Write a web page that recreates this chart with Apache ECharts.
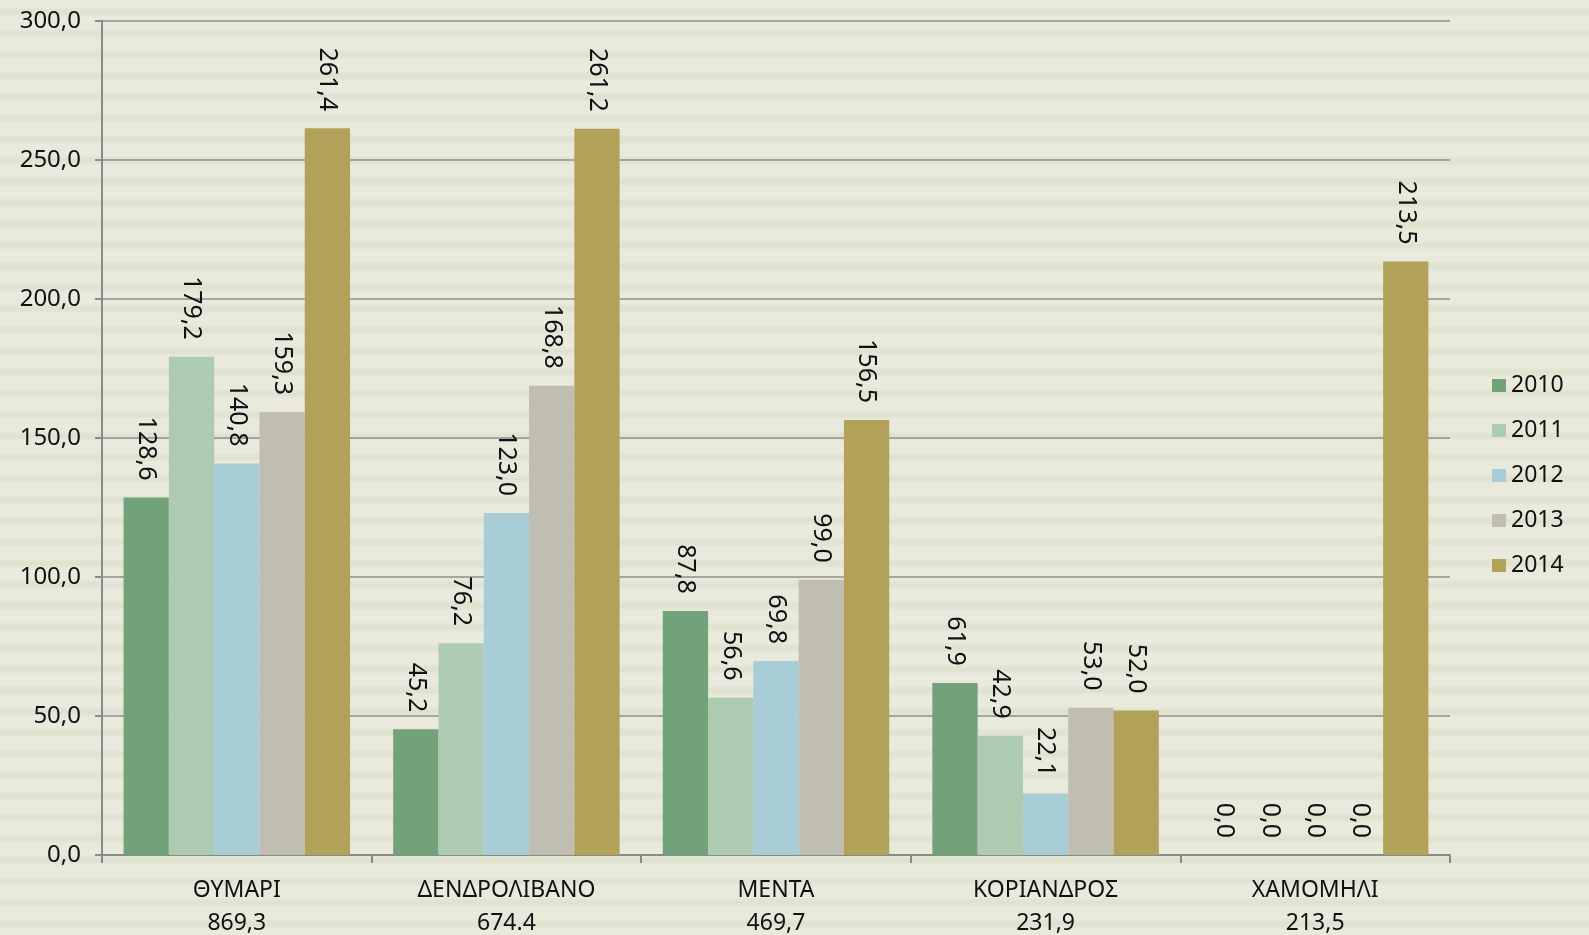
<!DOCTYPE html>
<html lang="el">
<head>
    <meta charset="UTF-8"/>
    <title>Chart</title>
    <style>
        html, body {
            margin: 0;
            padding: 0;
            width: 1589px;
            height: 935px;
            overflow: hidden;
            background-color: #e9e9dc;
            background-image: repeating-linear-gradient(180deg,
                #e9e9dc 0px, #e9e9dc 7px, #e1e4d1 10px, #dfe2cf 12px, #e1e4d1 14px, #e9e9dc 17px, #e9e9dc 21.2px);
        }
        #main { width: 1589px; height: 935px; }
    </style>
</head>
<body>
<div id="main"></div>

<script src="https://cdn.jsdelivr.net/npm/echarts@6/dist/echarts.min.js"></script>
<script type="text/javascript">
    // categories (name + total shown under it)
    var categories = ['ΘΥΜΑΡΙ', 'ΔΕΝΔΡΟΛΙΒΑΝΟ', 'ΜΕΝΤΑ', 'ΚΟΡΙΑΝΔΡΟΣ', 'ΧΑΜΟΜΗΛΙ'];
    var totals = ['869,3', '674.4', '469,7', '231,9', '213,5'];

    var years = ['2010', '2011', '2012', '2013', '2014'];
    var v2010 = [128.6, 45.2, 87.8, 61.9, 0];
    var v2011 = [179.2, 76.2, 56.6, 42.9, 0];
    var v2012 = [140.8, 123.0, 69.8, 22.1, 0];
    var v2013 = [159.3, 168.8, 99.0, 53.0, 0];
    var v2014 = [261.4, 261.2, 156.5, 52.0, 213.5];

    var colors = ['#71a27a', '#adcbb0', '#a9cdd6', '#c0beb1', '#b2a259'];

    var fontFam = '"Noto Sans", "DejaVu Sans", sans-serif';

    function fmt(v) {
        return v.toFixed(1).replace('.', ',');
    }

    var myChart = echarts.init(document.getElementById('main'));

    var allValues = [v2010, v2011, v2012, v2013, v2014];
    var series = years.map(function (y, i) {
        return {
            name: y,
            type: 'bar',
            data: allValues[i],
            barGap: '0%',
            barCategoryGap: '16%',
            itemStyle: { color: colors[i] },
            label: {
                show: true,
                position: 'top',
                rotate: -90,
                align: 'right',
                verticalAlign: 'middle',
                distance: 17,
                fontFamily: fontFam,
                fontSize: 25,
                color: '#111',
                formatter: function (p) { return fmt(p.value); }
            }
        };
    });

    var option = {
        animation: false,
        grid: { left: 102, right: 139, top: 21, bottom: 80, containLabel: false, outerBoundsMode: 'none' },
        legend: {
            orient: 'vertical',
            left: 1487,
            top: 369,
            itemWidth: 14,
            itemHeight: 13,
            itemGap: 22,
            icon: 'rect',
            textStyle: { fontFamily: fontFam, fontSize: 23, color: '#111', lineHeight: 23 },
            data: years
        },
        xAxis: {
            type: 'category',
            data: categories,
            axisLine: { lineStyle: { color: '#8a8a8a', width: 2 } },
            axisTick: { show: true, length: 8, lineStyle: { color: '#8a8a8a', width: 2 } },
            axisLabel: {
                margin: 19,
                fontFamily: fontFam,
                fontSize: 23,
                lineHeight: 33,
                color: '#111',
                formatter: function (v, idx) { return v + '\n' + totals[idx]; }
            }
        },
        yAxis: {
            type: 'value',
            min: 0,
            max: 300,
            interval: 50,
            axisLine: { show: true, lineStyle: { color: '#8a8a8a', width: 2 } },
            axisTick: { show: true, length: 7, lineStyle: { color: '#8a8a8a', width: 2 } },
            splitLine: { lineStyle: { color: '#8e8e8e', width: 1.5 } },
            axisLabel: {
                margin: 21,
                fontFamily: fontFam,
                fontSize: 24,
                color: '#111',
                formatter: function (v) { return fmt(v); }
            }
        },
        series: series
    };

    myChart.setOption(option);
</script>
</body>
</html>
